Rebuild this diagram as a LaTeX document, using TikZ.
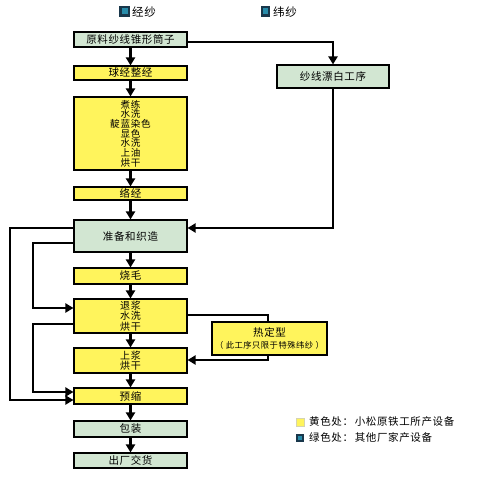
\documentclass[tikz,border=0pt]{standalone}
\usepackage{fontspec}
\setmainfont{Noto Sans CJK SC}[BoldFont={Noto Sans CJK SC Bold}]
\usetikzlibrary{arrows.meta,calc}
\definecolor{boxyellow}{RGB}{255,244,92}
\definecolor{boxgreen}{RGB}{210,230,210}
\definecolor{icondark}{RGB}{25,55,75}
\definecolor{iconteal}{RGB}{40,140,170}
\tikzset{
  proc/.style={draw=black, line width=1.1pt, minimum width=113pt, inner sep=0pt, align=center,
    font=\fontsize{10.5}{9.8}\selectfont\addfontfeature{LetterSpace=6}},
  yproc/.style={proc, fill=boxyellow},
  gproc/.style={proc, fill=boxgreen},
  flow/.style={line width=2.2pt, -{Triangle[length=8pt,width=9pt]}},
  lbl/.style={inner sep=0pt, anchor=west, font=\fontsize{10.5}{12}\selectfont\addfontfeature{LetterSpace=6}}
}
\begin{document}
\begin{tikzpicture}[x=1pt,y=-1pt]
\useasboundingbox (0,0) rectangle (500,478);
% top legend
\fill[icondark] (119,6) rectangle (130,17);
\fill[iconteal] (121.5,8.5) rectangle (127.5,14.5);
\node[lbl, font=\fontsize{11.5}{12}\selectfont\addfontfeature{LetterSpace=6}] (kw) at (132,12) {经纱};
\fill[icondark] (261,6) rectangle (270,17);
\fill[iconteal] (263,8.5) rectangle (268,14.5);
\node[lbl, font=\fontsize{11.5}{12}\selectfont\addfontfeature{LetterSpace=6}] (kf) at (273,12) {纬纱};
% main column
\node[gproc, minimum height=15pt] (raw) at (130.5,39.5) {原料纱线锥形筒子};
\node[yproc, minimum height=14pt] (qiu) at (130.5,73) {球经整经};
\node[yproc, minimum height=73pt, font=\fontsize{9.6}{9.7}\selectfont\addfontfeature{LetterSpace=8}] (big) at (130.5,133.5) {煮练\\水洗\\靛蓝染色\\显色\\水洗\\上油\\烘干};
\node[yproc, minimum height=13pt] (luo) at (130.5,193.5) {络经};
\node[gproc, minimum height=32pt] (zhun) at (130.5,236) {准备和织造};
\node[yproc, minimum height=16pt] (shao) at (130.5,276) {烧毛};
\node[yproc, minimum height=34pt, font=\fontsize{10}{10.5}\selectfont\addfontfeature{LetterSpace=6}] (tui) at (130.5,316) {退浆\\水洗\\烘干};
\node[yproc, minimum height=25pt, font=\fontsize{10}{10.5}\selectfont\addfontfeature{LetterSpace=6}] (shang) at (130.5,360.5) {上浆\\烘干};
\node[yproc, minimum height=16pt] (yu) at (130.5,396) {预缩};
\node[gproc, minimum height=16pt] (bao) at (130.5,429) {包装};
\node[gproc, minimum height=15pt] (chu) at (130.5,460.5) {出厂交货};
% side boxes
\node[gproc, minimum width=112pt, minimum height=23pt] (bleach) at (333,76.5) {纱线漂白工序};
\node[yproc, minimum width=115pt, minimum height=33pt] (heat) at (269.5,338.5)
  {热定型\\[3pt]{\fontsize{8.3}{9}\selectfont （ 此工序只限于特殊纬纱 ）}};
% vertical flow
\draw[flow] (raw) -- (qiu);
\draw[flow] (qiu) -- (big);
\draw[flow] (big) -- (luo);
\draw[flow] (luo) -- (zhun);
\draw[flow] (zhun) -- (shao);
\draw[flow] (shao) -- (tui);
\draw[flow] (tui) -- (shang);
\draw[flow] (shang) -- (yu);
\draw[flow] (yu) -- (bao);
\draw[flow] (bao) -- (chu);
% weft branch
\draw[flow] ([yshift=-2.5pt]raw.east) -| (bleach.north);
\draw[flow] (bleach.south) |- ([yshift=8pt]zhun.east);
% left loops
\coordinate (l1a) at (10,228);
\coordinate (l1b) at (10,400);
\draw[flow] ([yshift=8pt]zhun.west) -- (l1a) -- (l1b) -- ([yshift=-4pt]yu.west);
\coordinate (l2a) at (33,243);
\coordinate (l2b) at (33,308);
\draw[flow] ([yshift=-7pt]zhun.west) -- (l2a) -- (l2b) -- ([yshift=8pt]tui.west);
\coordinate (l3a) at (33,324);
\coordinate (l3b) at (33,392);
\draw[flow] ([yshift=-8pt]tui.west) -- (l3a) -- (l3b) -- ([yshift=4pt]yu.west);
% heat setting branch
\draw[line width=2.2pt] ([yshift=1pt]tui.east) -| ([xshift=-1.5pt]heat.north);
\coordinate (h1) at (268,360);
\draw[flow] ([xshift=-1.5pt]heat.south) -- (h1) -- (shang.east |- h1);
% bottom legend
\draw[fill=boxyellow, draw=boxyellow!60!black!40] (296,418) rectangle (304,426);
\node[lbl] (ly) at (309,422) {黄色处：\,小松原铁工所产设备};
\fill[icondark] (296,434) rectangle (304,442);
\fill[iconteal] (298,436) rectangle (302,440);
\node[lbl] (lg) at (309,438) {绿色处：\,其他厂家产设备};
\end{tikzpicture}
\end{document}
